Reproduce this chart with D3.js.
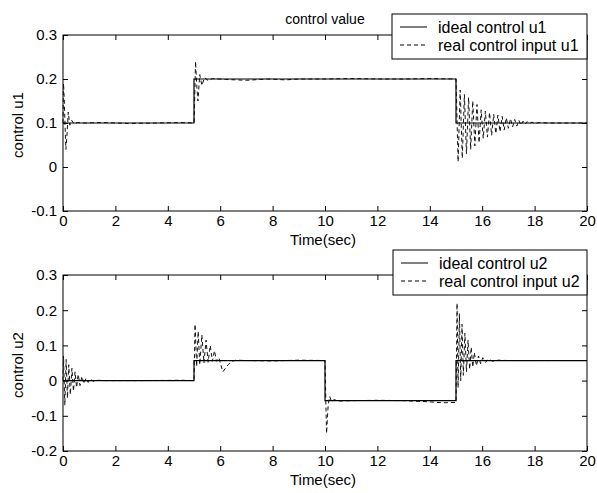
<!DOCTYPE html>
<html>
<head>
<meta charset="utf-8">
<script src="https://cdn.jsdelivr.net/npm/d3@7"></script>
<style>
  body { margin: 0; background: #fff; }
  svg { display: block; font-family: "Liberation Sans", Arial, sans-serif; }
</style>
</head>
<body>
<div id="chart"></div>
<script>
// ---- data ----
const timeTicks = [0, 2, 4, 6, 8, 10, 12, 14, 16, 18, 20];
const u1Ticks = [-0.1, 0, 0.1, 0.2, 0.3];
const u2Ticks = [-0.2, -0.1, 0, 0.1, 0.2, 0.3];

const idealU1 = [[0, 0.1], [5, 0.1], [5, 0.2], [15, 0.2], [15, 0.1], [20, 0.1]];
const realU1 = [
  [0, 0.1], [0.02, 0.19], [0.05, 0.15], [0.08, 0.09], [0.11, 0.04], [0.15, 0.07], [0.2, 0.125],
  [0.26, 0.095], [0.33, 0.106], [0.42, 0.098], [0.55, 0.101], [0.8, 0.1], [1.5, 0.101],
  [2.5, 0.099], [3.5, 0.1], [4.5, 0.101], [5, 0.1],
  [5.02, 0.14], [5.06, 0.24], [5.1, 0.19], [5.15, 0.15], [5.22, 0.21], [5.3, 0.185],
  [5.4, 0.203], [5.55, 0.196], [5.7, 0.201], [6.2, 0.199], [7, 0.197], [7.8, 0.2],
  [8.5, 0.198], [9, 0.2], [10, 0.2], [11, 0.201], [12, 0.2], [13, 0.2], [14, 0.201], [15, 0.2],
  [15.08, 0.012], [15.16, 0.175], [15.24, 0.02], [15.32, 0.165], [15.4, 0.03], [15.48, 0.158],
  [15.56, 0.04], [15.64, 0.15], [15.72, 0.048], [15.8, 0.142], [15.88, 0.055], [15.96, 0.13],
  [16.04, 0.065], [16.12, 0.127], [16.2, 0.068], [16.28, 0.124], [16.36, 0.072], [16.44, 0.12],
  [16.52, 0.076], [16.6, 0.118], [16.68, 0.08], [16.76, 0.115], [16.84, 0.084], [16.92, 0.112],
  [17.0, 0.088], [17.08, 0.11], [17.16, 0.091], [17.24, 0.108], [17.32, 0.093], [17.4, 0.106],
  [17.48, 0.095], [17.56, 0.104], [17.64, 0.097], [17.72, 0.103], [17.8, 0.098], [17.9, 0.102],
  [18.0, 0.099], [18.2, 0.101], [18.5, 0.1], [19, 0.1], [20, 0.1]
];

const idealU2 = [[0, 0], [5, 0], [5, 0.057], [10, 0.057], [10, -0.057], [15, -0.057], [15, 0.057], [20, 0.057]];
const realU2 = [
  [0, 0], [0.02, 0.07], [0.07, -0.07], [0.12, 0.06], [0.17, -0.05], [0.22, 0.045], [0.28, -0.04],
  [0.34, 0.035], [0.4, -0.03], [0.46, 0.025], [0.52, -0.02], [0.58, 0.018], [0.65, -0.014],
  [0.72, 0.012], [0.8, -0.009], [0.88, 0.007], [0.96, -0.005], [1.05, 0.004], [1.15, -0.002],
  [1.3, 0.001], [1.6, 0], [3, 0], [4.5, 0.001], [5, 0],
  [5.04, 0.16], [5.1, 0.04], [5.16, 0.14], [5.22, 0.045], [5.3, 0.13], [5.38, 0.05], [5.46, 0.115],
  [5.54, 0.052], [5.62, 0.1], [5.7, 0.055], [5.78, 0.085], [5.86, 0.055], [5.95, 0.065],
  [6.1, 0.025], [6.2, 0.035], [6.3, 0.045], [6.45, 0.055], [6.6, 0.058], [7, 0.057], [8, 0.056],
  [9, 0.058], [10, 0.057],
  [10.02, -0.02], [10.06, -0.15], [10.12, -0.07], [10.18, -0.045], [10.25, -0.06], [10.35, -0.054],
  [10.5, -0.058], [11, -0.057], [12, -0.056], [13, -0.057], [13.9, -0.06], [14.5, -0.063], [15, -0.062],
  [15.04, 0.22], [15.08, -0.02], [15.13, 0.19], [15.18, 0.0], [15.23, 0.16], [15.28, 0.015],
  [15.34, 0.135], [15.4, 0.025], [15.46, 0.115], [15.52, 0.032], [15.58, 0.095], [15.64, 0.038],
  [15.7, 0.08], [15.78, 0.042], [15.86, 0.07], [15.94, 0.048], [16.02, 0.065], [16.12, 0.052],
  [16.25, 0.061], [16.4, 0.055], [16.6, 0.058], [17, 0.057], [20, 0.057]
];

const width = 597;
const height = 493;
const font = 15;

const svg = d3.select("#chart").append("svg")
  .attr("width", width)
  .attr("height", height);

drawPanel({
  top: 35, bottom: 211, left: 63, right: 587,
  yDomain: [-0.1, 0.3], yTicks: u1Ticks,
  ideal: idealU1, real: realU1,
  ylabel: "control u1", title: "control value",
  legend: ["ideal control u1", "real control input u1"],
  legendBox: { x: 392, y: 14, w: 195, h: 45 }
});

drawPanel({
  top: 275, bottom: 451, left: 63, right: 587,
  yDomain: [-0.2, 0.3], yTicks: u2Ticks,
  ideal: idealU2, real: realU2,
  ylabel: "control u2", title: null,
  legend: ["ideal control u2", "real control input u2"],
  legendBox: { x: 393, y: 250, w: 194, h: 45 }
});

function drawPanel(cfg) {
  const x = d3.scaleLinear().domain([0, 20]).range([cfg.left, cfg.right]);
  const y = d3.scaleLinear().domain(cfg.yDomain).range([cfg.bottom, cfg.top]);

  const styleAxis = g => {
    g.select(".domain").remove();
    g.selectAll("line").attr("stroke", "#000");
    g.selectAll("text")
      .attr("fill", "#000")
      .style("font-size", font + "px")
      .style("font-family", "'Liberation Sans', Arial, sans-serif");
  };

  // bottom and left with labels, ticks pointing inward
  svg.append("g")
    .attr("transform", `translate(0,${cfg.bottom})`)
    .call(d3.axisBottom(x).tickValues(timeTicks).tickSizeInner(-5).tickSizeOuter(0).tickPadding(4).tickFormat(d => String(d)))
    .call(styleAxis);

  // plain hyphen for negatives, like the original
  svg.append("g")
    .attr("transform", `translate(${cfg.left},0)`)
    .call(d3.axisLeft(y).tickValues(cfg.yTicks).tickSizeInner(-5).tickSizeOuter(0).tickPadding(6).tickFormat(d => String(+d.toFixed(1))))
    .call(styleAxis);

  // top and right ticks, no labels
  svg.append("g")
    .attr("transform", `translate(0,${cfg.top})`)
    .call(d3.axisTop(x).tickValues(timeTicks).tickSizeInner(-5).tickSizeOuter(0).tickFormat(""))
    .call(styleAxis);

  svg.append("g")
    .attr("transform", `translate(${cfg.right},0)`)
    .call(d3.axisRight(y).tickValues(cfg.yTicks).tickSizeInner(-5).tickSizeOuter(0).tickFormat(""))
    .call(styleAxis);

  // frame
  svg.append("rect")
    .attr("x", cfg.left)
    .attr("y", cfg.top)
    .attr("width", cfg.right - cfg.left)
    .attr("height", cfg.bottom - cfg.top)
    .attr("fill", "none")
    .attr("stroke", "#000")
    .attr("stroke-width", 1);

  const line = d3.line()
    .x(d => x(d[0]))
    .y(d => y(d[1]));

  svg.append("path")
    .datum(cfg.real)
    .attr("d", line)
    .attr("fill", "none")
    .attr("stroke", "#111")
    .attr("stroke-width", 1)
    .attr("stroke-dasharray", "4,3");

  svg.append("path")
    .datum(cfg.ideal)
    .attr("d", line)
    .attr("fill", "none")
    .attr("stroke", "#000")
    .attr("stroke-width", 1.2);

  // axis labels
  svg.append("text")
    .attr("x", (cfg.left + cfg.right) / 2 - 2)
    .attr("y", cfg.bottom + 34)
    .attr("text-anchor", "middle")
    .style("font-size", font + "px")
    .text("Time(sec)");

  svg.append("text")
    .attr("transform", `translate(23,${(cfg.top + cfg.bottom) / 2 + 2}) rotate(-90)`)
    .attr("text-anchor", "middle")
    .style("font-size", font + "px")
    .text(cfg.ylabel);

  if (cfg.title) {
    svg.append("text")
      .attr("x", (cfg.left + cfg.right) / 2)
      .attr("y", cfg.top - 11)
      .attr("text-anchor", "middle")
      .style("font-size", "14px")
      .text(cfg.title);
  }

  // legend
  const lb = cfg.legendBox;
  const legend = svg.append("g");
  legend.append("rect")
    .attr("x", lb.x)
    .attr("y", lb.y)
    .attr("width", lb.w)
    .attr("height", lb.h)
    .attr("fill", "#fff")
    .attr("stroke", "#000");

  const dashes = [null, "4,3"];
  cfg.legend.forEach((label, i) => {
    const cy = lb.y + 13 + i * 18;
    legend.append("line")
      .attr("x1", lb.x + 8)
      .attr("x2", lb.x + 35)
      .attr("y1", cy)
      .attr("y2", cy)
      .attr("stroke", "#000")
      .attr("stroke-dasharray", dashes[i]);
    legend.append("text")
      .attr("x", lb.x + 46)
      .attr("y", cy)
      .attr("dy", "0.35em")
      .style("font-size", "16px")
      .text(label);
  });
}
</script>
</body>
</html>
